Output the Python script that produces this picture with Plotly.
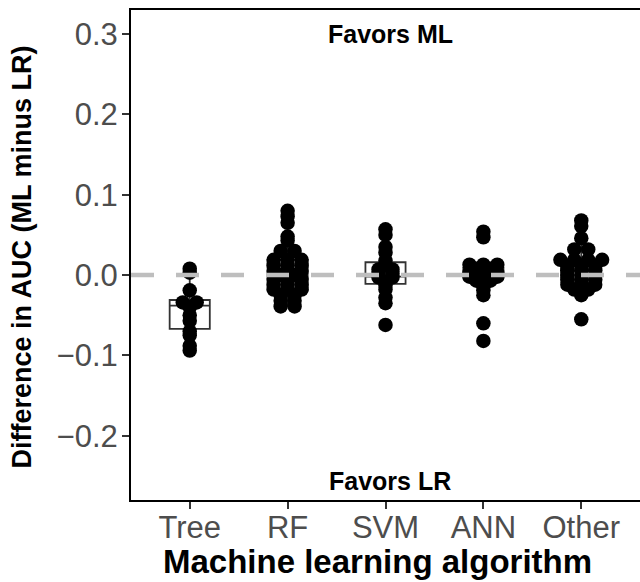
import numpy as np
import plotly.graph_objects as go

categories = ["Tree", "RF", "SVM", "ANN", "Other"]

tree = [0.008, 0.003, -0.019, -0.034, -0.034, -0.040, -0.050, -0.057,
        -0.070, -0.075, -0.088, -0.094]
rf = [0.080, 0.073, 0.065, 0.048, 0.043, 0.030, 0.030,
      0.019, 0.019, 0.019, 0.012, 0.012, 0.012, 0.005, 0.005, 0.005,
      0.000, 0.000, -0.005, -0.005, -0.005, -0.012, -0.012, -0.012,
      -0.018, -0.018, -0.018, -0.025, -0.025, -0.032, -0.032, -0.039, -0.039]
svm = [0.057, 0.050, 0.035, 0.028, 0.018, 0.012, 0.007, 0.007, 0.002, 0.002,
       -0.003, -0.003, -0.008, -0.013, -0.018, -0.028, -0.035, -0.062]
ann = [0.054, 0.047, 0.013, 0.013, 0.013, 0.008, 0.008, 0.003, 0.003, 0.003,
       -0.002, -0.002, -0.002, -0.007, -0.007, -0.013, -0.019, -0.025,
       -0.060, -0.082]
other = [0.068, 0.061, 0.046, 0.032, 0.032, 0.019, 0.019, 0.019, 0.019,
         0.012, 0.012, 0.012, 0.006, 0.006, 0.006, 0.000, 0.000, 0.000,
         -0.006, -0.006, -0.006, -0.012, -0.012, -0.012, -0.018, -0.018,
         -0.025, -0.055]

# box statistics
q1 = [-0.067, -0.019, -0.011, -0.003, -0.005]
median = [-0.038, 0.003, -0.002, 0.002, 0.005]
q3 = [-0.031, 0.019, 0.016, 0.009, 0.019]
lowerfence = [-0.094, -0.039, -0.035, -0.019, -0.025]
upperfence = [0.008, 0.073, 0.050, 0.013, 0.046]

groups = [tree, rf, svm, ann, other]

BINW = 0.0045
STEP = 0.142  # dot spacing in category units


def dotplot(vals, center):
    v = np.sort(np.asarray(vals, dtype=float))
    xs, ys = [], []
    i = 0
    while i < len(v):
        j = i
        while j + 1 < len(v) and v[j + 1] - v[i] < BINW:
            j += 1
        b = v[i:j + 1]
        yc = (b[0] + b[-1]) / 2
        n = len(b)
        for k in range(n):
            xs.append(center + (k - (n - 1) / 2) * STEP)
            ys.append(yc)
        i = j + 1
    return xs, ys


fig = go.Figure()
for i, name in enumerate(categories):
    fig.add_trace(go.Box(
        x=[i + 1], q1=[q1[i]], median=[median[i]], q3=[q3[i]],
        lowerfence=[lowerfence[i]], upperfence=[upperfence[i]],
        width=0.41, whiskerwidth=0, fillcolor="white",
        line=dict(color="#333333", width=1.8), boxpoints=False,
        showlegend=False, hoverinfo="skip"))

for i, vals in enumerate(groups):
    xs, ys = dotplot(vals, i + 1)
    fig.add_trace(go.Scatter(
        x=xs, y=ys, mode="markers",
        marker=dict(color="black", size=14.5, line=dict(width=0)),
        showlegend=False))

fig.add_shape(type="line", xref="paper", x0=0, x1=1, yref="y", y0=0, y1=0,
              line=dict(color="#BEBEBE", width=4.5, dash="23px,22px"),
              layer="above")

font = "Liberation Sans, Arial, sans-serif"
fig.add_annotation(x=3.05, y=0.300, xref="x", yref="y", text="<b>Favors ML</b>",
                   showarrow=False, font=dict(family=font, size=25, color="black"))
fig.add_annotation(x=3.05, y=-0.256, xref="x", yref="y", text="<b>Favors LR</b>",
                   showarrow=False, font=dict(family=font, size=25, color="black"))
# axis titles
fig.add_annotation(x=0.485, y=-0.1245, xref="paper", yref="paper",
                   text="<b>Machine learning algorithm</b>", showarrow=False,
                   xanchor="center", yanchor="middle",
                   font=dict(family=font, size=33, color="black"))
fig.add_annotation(x=-0.214, y=0.495, xref="paper", yref="paper",
                   text="<b>Difference in AUC (ML minus LR)</b>", showarrow=False,
                   textangle=-90, xanchor="center", yanchor="middle",
                   font=dict(family=font, size=27, color="black"))

fig.update_layout(
    width=640, height=582,
    margin=dict(l=131, r=0, t=10, b=82),
    plot_bgcolor="white", paper_bgcolor="white",
    font=dict(family=font),
    xaxis=dict(
        range=[0.4, 5.6], tickvals=[1, 2, 3, 4, 5], ticktext=categories,
        showgrid=False, zeroline=False, showline=True, mirror=True,
        linecolor="black", linewidth=2, automargin=False,
        ticks="outside", ticklen=7, tickwidth=1.5, tickcolor="#333333",
        ticklabelstandoff=-8,
        tickfont=dict(size=31, color="#4D4D4D")),
    yaxis=dict(
        range=[-0.280, 0.330], tickvals=[-0.2, -0.1, 0.0, 0.1, 0.2, 0.3],
        tickformat=".1f", automargin=False,
        showgrid=False, zeroline=False, showline=True, mirror=False,
        linecolor="black", linewidth=2,
        ticks="outside", ticklen=7, tickwidth=1.5, tickcolor="#333333",
        ticklabelstandoff=-2,
        tickfont=dict(size=31, color="#4D4D4D")),
)

fig.write_html("out.html",
               config={"displayModeBar": False},
               post_script="document.body.style.margin='0px';"
                           "document.body.style.overflow='hidden';")
